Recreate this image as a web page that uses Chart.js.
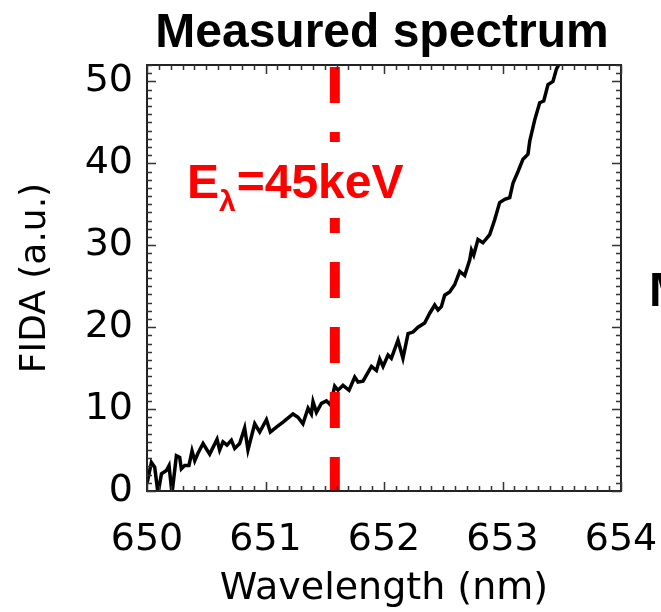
<!DOCTYPE html>
<html>
<head>
<meta charset="utf-8">
<script src="https://cdn.jsdelivr.net/npm/chart.js@4.4.1/dist/chart.umd.min.js"></script>
<style>
  html, body { margin: 0; padding: 0; background: #fff; }
  #wrap { width: 661px; height: 612px; }
</style>
</head>
<body>
<div id="wrap"><canvas id="spectrum"></canvas></div>
<script>
// Measured FIDA spectrum
const wavelength = [
  650.00, 650.037, 650.065, 650.093, 650.122, 650.164, 650.186, 650.211, 650.248, 650.276,
  650.290, 650.318, 650.354, 650.380, 650.403, 650.430, 650.473, 650.529, 650.591, 650.613,
  650.641, 650.675, 650.712, 650.740, 650.782, 650.824, 650.852, 650.909, 650.951, 651.008,
  651.041, 651.092, 651.148, 651.232, 651.274, 651.316, 651.359, 651.387, 651.401, 651.430,
  651.472, 651.514, 651.548, 651.584, 651.612, 651.654, 651.705, 651.753, 651.781, 651.823,
  651.894, 651.936, 651.964, 651.992, 652.034, 652.062, 652.118, 652.160, 652.203, 652.245,
  652.287, 652.343, 652.386, 652.428, 652.456, 652.484, 652.512, 652.554, 652.597, 652.639,
  652.681, 652.723, 652.738, 652.757, 652.793, 652.835, 652.892, 652.934, 652.976, 653.019,
  653.061, 653.089, 653.131, 653.173, 653.215, 653.230, 653.272, 653.314, 653.348, 653.384,
  653.426, 653.455, 653.477, 653.500
];
const fida = [
  0.9, 3.5, 2.9, -0.3, 2.1, 2.5, 3.1, -0.3, 4.3, 4.1,
  2.7, 3.1, 3.1, 4.9, 3.7, 4.6, 5.8, 4.5, 6.3, 5.0,
  6.0, 5.6, 6.2, 5.2, 5.8, 7.7, 5.0, 8.2, 7.2, 8.7,
  7.2, 7.8, 8.4, 9.4, 9.0, 8.2, 10.1, 9.4, 10.9, 9.6,
  10.7, 11.0, 10.5, 12.8, 12.3, 12.9, 12.3, 13.9, 13.3, 13.4,
  15.2, 14.7, 16.1, 15.2, 16.6, 16.2, 18.4, 16.2, 19.2, 19.4,
  20.0, 20.5, 21.7, 22.7, 22.1, 22.5, 23.9, 24.3, 25.2, 26.8,
  26.3, 28.2, 29.4, 28.8, 30.7, 30.3, 31.3, 33.1, 35.2, 35.6,
  35.8, 37.6, 39.0, 40.5, 41.1, 42.7, 45.3, 47.4, 47.6, 49.6,
  50.0, 51.5, 52.1, 52.6
];
const xTicks = [650, 651, 652, 653, 654];
const yTicks = [0, 10, 20, 30, 40, 50];
const xRange = [650, 654];
const yRange = [0, 52];
const markerWavelength = 651.585;   // E_lambda = 45 keV

const labelFont = '"DejaVu Sans", sans-serif';
const boldFont = '"Liberation Sans", Arial, sans-serif';

// IDL style box with inward ticks, the red label and the titles
const decorations = {
  id: 'decorations',
  afterDatasetsDraw(chart) {
    const { ctx, chartArea: a, scales: { x, y } } = chart;
    ctx.save();

    // white box behind the energy label
    ctx.fillStyle = '#fff';
    ctx.fillRect(167, 142, 296, 76);
    ctx.fillStyle = '#ff0000';
    ctx.textBaseline = 'alphabetic';
    ctx.textAlign = 'left';
    ctx.font = 'bold 48px ' + boldFont;
    ctx.fillText('E', 187, 198);
    let px = 187 + ctx.measureText('E').width;
    ctx.font = 'bold 30px ' + boldFont;
    ctx.fillText('\u03bb', px, 211);
    px += ctx.measureText('\u03bb').width + 1;
    ctx.font = 'bold 48px ' + boldFont;
    ctx.fillText('=45keV', px, 198);

    // frame
    ctx.strokeStyle = '#222';
    ctx.lineWidth = 2;
    ctx.strokeRect(a.left, a.top, a.right - a.left, a.bottom - a.top);

    // minor + major ticks, pointing inward
    ctx.lineWidth = 1.5;
    ctx.strokeStyle = '#333';
    ctx.beginPath();
    for (let i = 0; i <= 40; i++) {
      const p = Math.round(x.getPixelForValue(xRange[0] + i * 0.1)) + 0.5;
      const len = i % 10 === 0 ? 9 : 5;
      ctx.moveTo(p, a.bottom); ctx.lineTo(p, a.bottom - len);
      ctx.moveTo(p, a.top); ctx.lineTo(p, a.top + len);
    }
    for (let v = yRange[0]; v <= yRange[1]; v++) {
      const p = Math.round(y.getPixelForValue(v)) + 0.5;
      const len = v % 10 === 0 ? 9 : 5;
      ctx.moveTo(a.left, p); ctx.lineTo(a.left + len, p);
      ctx.moveTo(a.right, p); ctx.lineTo(a.right - len, p);
    }
    ctx.stroke();
    ctx.restore();
  },
  afterDraw(chart) {
    const { ctx, chartArea: a } = chart;
    ctx.save();
    ctx.fillStyle = '#000';
    ctx.textBaseline = 'alphabetic';
    ctx.font = 'bold 48px ' + boldFont;
    ctx.textAlign = 'center';
    ctx.fillText('Measured spectrum', (a.left + a.right) / 2 - 2, 47);
    // edge of the neighbouring panel's title
    ctx.textAlign = 'left';
    ctx.fillText('M', 649, 306);
    ctx.restore();
  }
};

const ctx = document.getElementById('spectrum').getContext('2d');
new Chart(ctx, {
  type: 'line',
  data: {
    datasets: [
      {
        label: 'E_lambda',
        data: [{ x: markerWavelength, y: yRange[1] }, { x: markerWavelength, y: yRange[0] }],
        borderColor: '#ff0000',
        borderWidth: 10,
        borderDash: [36, 29],
        borderDashOffset: -2,
        borderCapStyle: 'butt',
        pointRadius: 0,
        order: 0
      },
      {
        label: 'FIDA',
        data: wavelength.map((w, i) => ({ x: w, y: fida[i] })),
        borderColor: '#000',
        borderWidth: 3.5,
        pointRadius: 0,
        tension: 0,
        clip: 0,
        order: 1
      }
    ]
  },
  options: {
    responsive: true,
    maintainAspectRatio: false,
    animation: false,
    layout: { padding: { top: 65, right: 40, left: 0, bottom: 0 } },
    plugins: { legend: { display: false }, tooltip: { enabled: false }, title: { display: false } },
    scales: {
      x: {
        type: 'linear',
        min: xRange[0],
        max: xRange[1],
        afterBuildTicks: s => { s.ticks = xTicks.map(v => ({ value: v })); },
        afterFit: s => { s.height = 121; s.paddingLeft = 0; s.paddingRight = 0; },
        grid: { display: false, drawTicks: false },
        border: { display: false },
        ticks: { color: '#000', padding: 26, maxRotation: 0, font: { family: labelFont, size: 38 } },
        title: {
          display: true,
          text: 'Wavelength (nm)',
          color: '#000',
          font: { family: labelFont, size: 38 },
          padding: { top: 0, bottom: 0 }
        }
      },
      y: {
        type: 'linear',
        min: yRange[0],
        max: yRange[1],
        afterBuildTicks: s => { s.ticks = yTicks.map(v => ({ value: v })); },
        afterFit: s => { s.width = 147; s.paddingTop = 0; s.paddingBottom = 0; },
        grid: { display: false, drawTicks: false },
        border: { display: false },
        ticks: { color: '#000', padding: 14, font: { family: labelFont, size: 38 } },
        title: {
          display: true,
          text: 'FIDA (a.u.)',
          color: '#000',
          font: { family: labelFont, size: 36 },
          padding: { top: 14, bottom: 0 }
        }
      }
    }
  },
  plugins: [decorations]
});
</script>
</body>
</html>
